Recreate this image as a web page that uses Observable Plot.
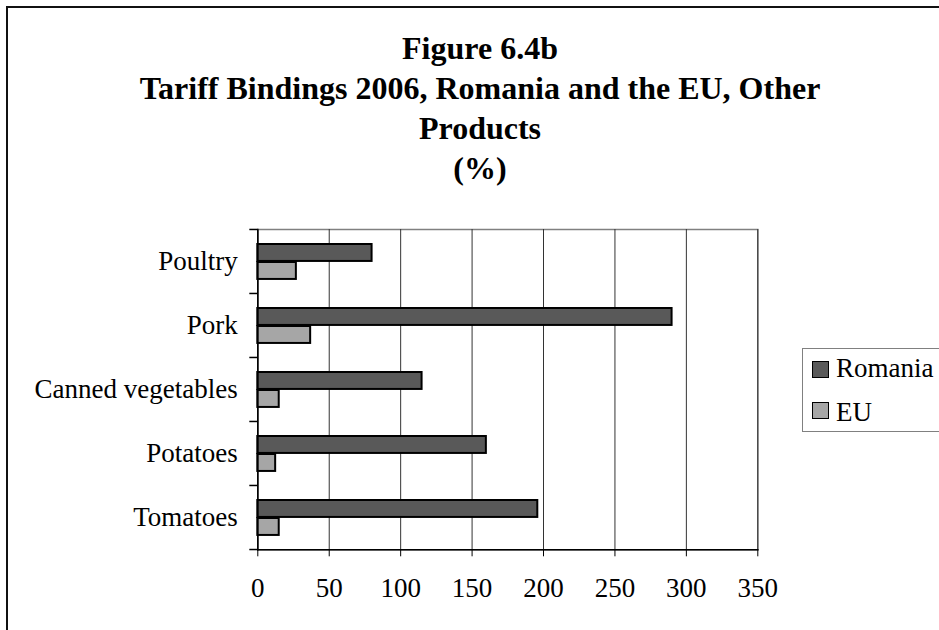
<!DOCTYPE html>
<html>
<head>
<meta charset="utf-8">
<script src="https://cdn.jsdelivr.net/npm/d3@7"></script>
<script src="https://cdn.jsdelivr.net/npm/@observablehq/plot@0.6"></script>
<style>
  html, body { margin: 0; padding: 0; background: #fff; }
  #page { position: relative; width: 939px; height: 630px; overflow: hidden; font-family: "Liberation Serif", "Times New Roman", serif; color: #000; }
  #border { position: absolute; left: 6px; top: 6px; width: 1000px; height: 1000px; border-top: 2px solid #111; border-left: 2px solid #111; }
  #chart { position: absolute; left: 0; top: 0; }
  .title { position: absolute; left: 0; width: 960px; text-align: center; font-weight: bold; font-size: 32px; line-height: 40px; white-space: nowrap; }
  #legend { position: absolute; left: 802px; top: 348px; width: 160px; height: 82px; border: 1px solid #808080; background: #fff; }
  .swatch { position: absolute; width: 15px; height: 15px; border: 1.5px solid #000; }
  .ltext { position: absolute; font-size: 27px; line-height: 30px; white-space: nowrap; }
</style>
</head>
<body>
<div id="page">
  <div id="border"></div>
  <div id="chart"></div>
  <div id="titles"></div>
  <div id="legend"></div>
</div>
<script>
// Products, top to bottom
const categories = ["Poultry", "Pork", "Canned vegetables", "Potatoes", "Tomatoes"];
// Bound tariffs, %
const romania = [80, 290, 115, 160, 196];
const eu = [27, 37, 15, 12.5, 15];
const seriesNames = ["Romania", "EU"];
const seriesColors = ["#595959", "#a6a6a6"];
const xTicks = [0, 50, 100, 150, 200, 250, 300, 350];
const titleLines = ["Figure 6.4b", "Tariff Bindings 2006, Romania and the EU, Other", "Products", "(%)"];

const rows = [];
categories.forEach((c, i) => {
  rows.push({product: c, series: seriesNames[0], value: romania[i]});
  rows.push({product: c, series: seriesNames[1], value: eu[i]});
});

const W = 939, H = 630;
const mLeft = 257.3, mRight = W - 757.3, mTop = 229, mBottom = H - 549.3;
const step = (H - mTop - mBottom) / categories.length;

const chart = Plot.plot({
  width: W,
  height: H,
  marginLeft: mLeft,
  marginRight: mRight,
  marginTop: mTop,
  marginBottom: mBottom,
  style: {fontFamily: "'Liberation Serif', 'Times New Roman', serif", background: "transparent", color: "#000"},
  x: {domain: [0, 350]},
  y: {domain: categories, padding: 0},
  color: {domain: seriesNames, range: seriesColors},
  marks: [
    Plot.frame({stroke: "#808080", strokeWidth: 1.5}),
    Plot.gridX(xTicks, {stroke: "#333", strokeOpacity: 1, strokeWidth: 1}),
    Plot.barX(rows.filter(d => d.series === seriesNames[0]), {
      y: "product", x: "value", fill: "series", stroke: "#000", strokeWidth: 2,
      insetTop: 15, insetBottom: step - 32
    }),
    Plot.barX(rows.filter(d => d.series === seriesNames[1]), {
      y: "product", x: "value", fill: "series", stroke: "#000", strokeWidth: 2,
      insetTop: 33, insetBottom: step - 50
    }),
    Plot.frame({anchor: "left", stroke: "#000", strokeWidth: 1.5}),
    Plot.frame({anchor: "bottom", stroke: "#000", strokeWidth: 1.5}),
    // category separators on the y axis
    Plot.ruleY(categories, {y: d => d, x1: 0, x2: 0, insetLeft: -8, dy: -step / 2, stroke: "#000", strokeWidth: 1.5}),
    Plot.ruleY(categories.slice(-1), {y: d => d, x1: 0, x2: 0, insetLeft: -8, dy: step / 2, stroke: "#000", strokeWidth: 1.5}),
    Plot.axisY({tickSize: 0, tickPadding: 20, fontSize: 27, label: null}),
    Plot.axisX({ticks: xTicks, tickSize: 7, tickPadding: 21, fontSize: 27, label: null, stroke: "#000"})
  ]
});
document.getElementById("chart").appendChild(chart);

// Title block
const titles = document.getElementById("titles");
titleLines.forEach((t, i) => {
  const d = document.createElement("div");
  d.className = "title";
  d.style.top = (28 + i * 40) + "px";
  d.textContent = t;
  titles.appendChild(d);
});

// Legend
const legend = document.getElementById("legend");
seriesNames.forEach((name, i) => {
  const s = document.createElement("div");
  s.className = "swatch";
  s.style.left = "9px";
  s.style.top = (12 + i * 41) + "px";
  s.style.background = seriesColors[i];
  legend.appendChild(s);
  const t = document.createElement("div");
  t.className = "ltext";
  t.style.left = "33px";
  t.style.top = (4 + i * 44) + "px";
  t.textContent = name;
  legend.appendChild(t);
});
</script>
</body>
</html>
